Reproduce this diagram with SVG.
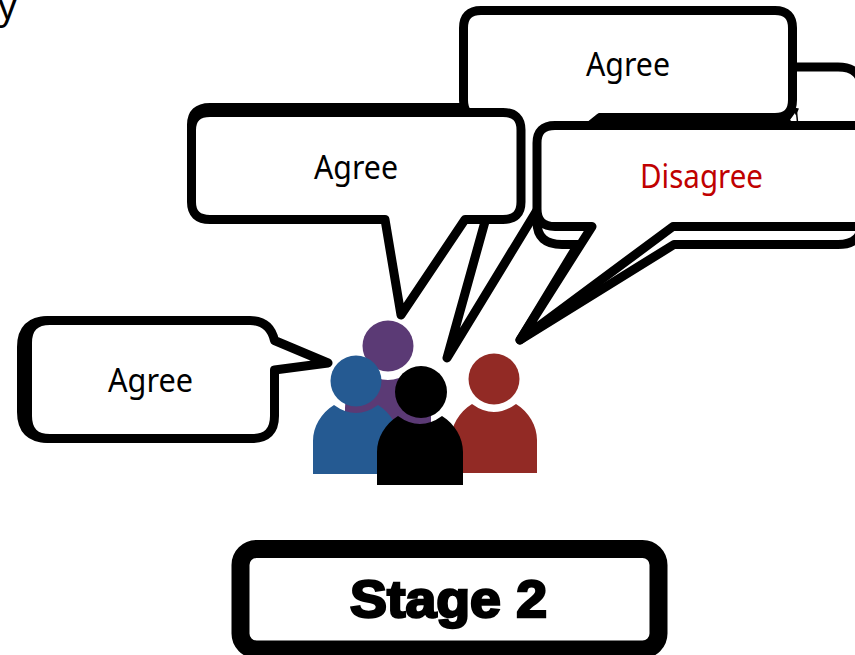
<svg xmlns="http://www.w3.org/2000/svg" width="855" height="655" viewBox="0 0 855 655">
<style>
.b{fill:#fff;stroke:#000;stroke-width:9;stroke-linejoin:round;stroke-linecap:round}
.o{fill:none;stroke:#000;stroke-width:9;stroke-linecap:round}
.t{font-family:"Noto Sans","Open Sans",sans-serif;font-size:32px;fill:#000}
</style>
<defs>
<path id="body" d="M-43 0V-33C-43 -47 -35 -61 -22 -69Q0 -53 22 -69C35 -61 43 -47 43 -33V0Z"/>
</defs>
<rect width="855" height="655" fill="#fff"/>
<text class="t" x="-2" y="19" style="font-size:37px">y</text>
<g id="callout-back">
<path class="b" d="M562 67H838Q862 67 862 90V222Q862 244.5 838 244.5H674L520 340L578 244.5H562Q537 244.5 537 222V90Q537 67 562 67Z"/>
</g>
<g id="callout-top">
<path class="b" d="M481 10.500H775Q792.500 10.500 792.500 28V100Q792.500 117.500 775 117.500H600L587 128L447 358L514 117.500H481Q463.500 117.500 463.500 100V28Q463.500 10.500 481 10.500Z"/>
<path fill="#000" d="M593 125L599 113H785L797 125Z"/>
<path d="M783 121Q795 115 796.500 108" fill="none" stroke="#000" stroke-width="5"/>
<path d="M790 120L795 113L797 125Z" fill="#fff"/>
<path d="M796.500 112L797.500 122" fill="none" stroke="#000" stroke-width="1.500"/>
<text class="t" x="586" y="76" textLength="84" lengthAdjust="spacingAndGlyphs">Agree</text>
</g>
<g id="callout-left">
<path class="o" d="M191.500 128V125Q191.500 107.500 210 107.500H464"/>
<path class="b" d="M210 112.500H503Q521 112.500 521 130V202Q521 219.500 503 219.500H465L401 315L385 219.500H210Q191.500 219.500 191.500 202V130Q191.500 112.500 210 112.500Z"/>
<text class="t" x="314" y="179" textLength="84" lengthAdjust="spacingAndGlyphs">Agree</text>
</g>
<g id="callout-disagree">
<path class="b" d="M555 125.500H880V226.500H673L520 340L592 226.500H555Q537 226.500 537 209V143Q537 125.500 555 125.500Z"/>
<text class="t" x="640" y="188" textLength="123" lengthAdjust="spacingAndGlyphs" style="fill:#c00000">Disagree</text>
</g>
<g id="callout-bottom-left">
<path class="o" d="M48 320.500Q21.500 320.500 21.500 347V412Q21.500 438.500 48 438.500"/>
<path class="b" d="M50 320.500H250Q270 320.500 274.500 340.500L328 363L274.500 370V416Q274.500 438.500 252 438.500H50Q27.500 438.500 27.500 416V343Q27.500 320.500 50 320.500Z"/>
<text class="t" x="108" y="392" textLength="85" lengthAdjust="spacingAndGlyphs">Agree</text>
</g>
<g id="person-purple" fill="#5b3a75">
<circle cx="388" cy="346" r="25.500"/>
<use href="#body" transform="translate(388 441)"/>
</g>
<g id="person-blue" fill="#255a92">
<use href="#body" transform="translate(356 474)"/>
<circle cx="356" cy="381" r="25.500"/>
</g>
<g id="person-red" fill="#922a25">
<use href="#body" transform="translate(494 473)"/>
<circle cx="494" cy="379" r="25.500"/>
</g>
<g id="person-black" fill="#000">
<use href="#body" transform="translate(420 485)"/>
<circle cx="421" cy="392" r="26"/>
</g>
<g id="stage-label">
<rect x="240.500" y="549" width="418" height="100.500" rx="16" fill="#fff" stroke="#000" stroke-width="18"/>
<text x="350" y="617" textLength="197" lengthAdjust="spacingAndGlyphs" style="font-family:'Liberation Sans',Arial,sans-serif;font-weight:700;font-size:52px;stroke:#000;stroke-width:2.500">Stage 2</text>
</g>
</svg>
